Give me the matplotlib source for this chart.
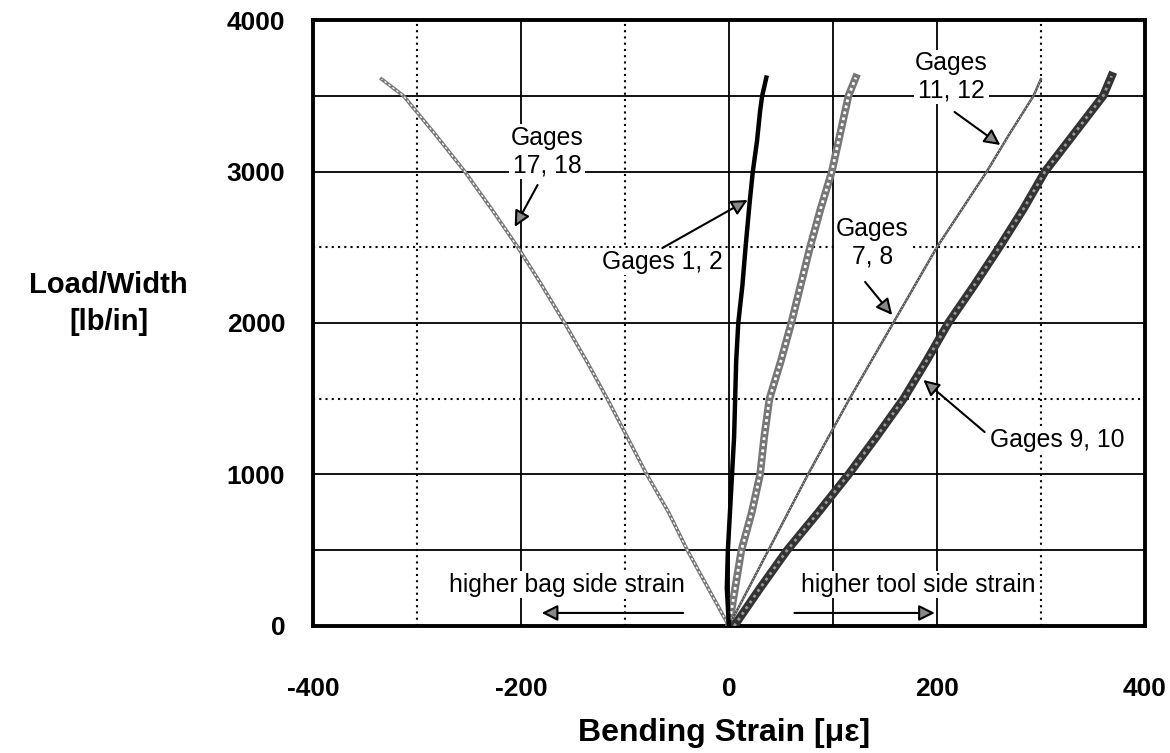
import matplotlib.pyplot as plt

plt.rcParams['font.family'] = ['Liberation Sans', 'DejaVu Sans']
plt.rcParams['axes.unicode_minus'] = False

# load/width levels (lb/in) and bending strain (microstrain)
load_1718 = [0, 250, 500, 750, 1000, 1250, 1500, 1750, 2000, 2250, 2500, 2750, 3000, 3250, 3500, 3610]
strain_1718 = [0, -20, -40, -58, -79, -98, -117, -137, -158, -180, -203, -228, -254, -283, -313, -334]

load_12 = [0, 250, 500, 750, 1000, 1250, 1500, 1750, 2000, 2250, 2500, 2800, 3000, 3200, 3400, 3500, 3620]
strain_12 = [0, -2, -1, 1, 3, 5, 6, 7, 9, 13, 16, 20, 23, 27, 30, 32, 36]

load_x = [0, 250, 500, 750, 1000, 1250, 1500, 1750, 2000, 2250, 2500, 2750, 3000, 3250, 3500, 3620]
strain_x = [0, 6, 12, 22, 30, 34, 39, 50, 60, 69, 78, 88, 99, 107, 115, 122]

load_78 = [0, 250, 500, 750, 1000, 1250, 1500, 1750, 2000, 2250, 2500, 2750, 3000, 3250, 3500, 3610]
strain_78 = [0, 19, 38, 57, 76, 96, 116, 137, 158, 179, 200, 224, 248, 270, 293, 300]

load_910 = [0, 250, 500, 750, 1000, 1250, 1500, 1750, 2000, 2250, 2500, 2750, 3000, 3250, 3500, 3630]
strain_910 = [5, 30, 56, 86, 115, 142, 168, 190, 211, 236, 260, 283, 304, 332, 360, 368]

grid_solid_x = [-200, 0, 100, 200]
grid_dot_x = [-300, -100, 300]
grid_solid_y = [500, 1000, 2000, 3000, 3500]
grid_dot_y = [1500, 2500]

xticks = [-400, -200, 0, 200, 400]
yticks = [0, 1000, 2000, 3000, 4000]

fig = plt.figure(figsize=(11.7, 7.53), dpi=100)
ax = fig.add_axes([0.2675, 0.1687, 0.711, 0.8047])

for x in grid_solid_x:
    ax.axvline(x, color='black', lw=1.3, zorder=1)
for x in grid_dot_x:
    ax.axvline(x, color='black', lw=1.5, ls=(0, (1, 2)), zorder=1)
for y in grid_solid_y:
    ax.axhline(y, color='black', lw=1.3, zorder=1)
for y in grid_dot_y:
    ax.axhline(y, color='black', lw=1.5, ls=(0, (1, 2)), zorder=1)

# gages 17, 18 - thin double line
ax.plot(strain_1718, load_1718, color='#777777', lw=2.6, zorder=3)
ax.plot(strain_1718, load_1718, color='white', lw=0.9, ls=(0, (2, 2)), zorder=3)

# gages 1, 2 - thick black
ax.plot(strain_12, load_12, color='black', lw=3.2, zorder=4)

# unlabeled crosshatched gray
ax.plot(strain_x, load_x, color='#777777', lw=5.5, zorder=3)
ax.plot(strain_x, load_x, color='white', lw=2, ls=(0, (1, 1.2)), zorder=3)

# gages 7, 8 / 11, 12 - thin line
ax.plot(strain_78, load_78, color='#555555', lw=1.8, zorder=3)
ax.plot(strain_78, load_78, color='white', lw=0.6, ls=(0, (1, 3)), zorder=3)

# gages 9, 10 - thick dark
ax.plot(strain_910, load_910, color='#333333', lw=6, zorder=3)
ax.plot(strain_910, load_910, color='#999999', lw=2, ls=(0, (1, 1.5)), zorder=3)

ax.set_xlim(-400, 400)
ax.set_ylim(0, 4000)
ax.set_xticks(xticks)
ax.set_yticks(yticks)
ax.tick_params(length=0, labelsize=19)
ax.tick_params(axis='x', pad=37)
ax.tick_params(axis='y', pad=20)
for lab in ax.get_xticklabels() + ax.get_yticklabels():
    lab.set_fontweight('bold')
for s in ax.spines.values():
    s.set_linewidth(2.8)

fig.text(0.619, 0.026, 'Bending Strain [\u03bc\u03b5]', ha='center', va='center',
         fontsize=23, fontweight='bold')
fig.text(0.093, 0.597, 'Load/Width\n[lb/in]', ha='center', va='center',
         fontsize=21, fontweight='bold', linespacing=1.4)

box = dict(facecolor='white', edgecolor='none', pad=1)
tfs = 17.8
ax.text(-175, 3130, 'Gages\n17, 18', ha='center', va='center', fontsize=tfs, bbox=box, zorder=5)
ax.text(-64, 2403, 'Gages 1, 2', ha='center', va='center', fontsize=tfs, bbox=box, zorder=5)
ax.text(214, 3624, 'Gages\n11, 12', ha='center', va='center', fontsize=tfs, bbox=box, zorder=5)
ax.text(138, 2528, 'Gages\n7, 8', ha='center', va='center', fontsize=tfs, bbox=box, zorder=5)
ax.text(316, 1228, 'Gages 9, 10', ha='center', va='center', fontsize=tfs, bbox=box, zorder=5)
ax.text(-156, 271, 'higher bag side strain', ha='center', va='center', fontsize=tfs, bbox=box, zorder=5)
ax.text(182, 271, 'higher tool side strain', ha='center', va='center', fontsize=tfs, bbox=box, zorder=5)

arrow = dict(arrowstyle='-|>', color='black', fc='#888888', lw=1.5, mutation_scale=24,
             shrinkA=0, shrinkB=0)
arrows = [((-184, 2911), (-206, 2634)),
          ((-64, 2495), (18, 2812)),
          ((217, 3393), (261, 3175)),
          ((131, 2271), (157, 2053)),
          ((246, 1280), (187, 1624)),
          ((-44, 86), (-180, 86)),
          ((63, 86), (198, 86))]
for tail, tip in arrows:
    ax.annotate('', xy=tip, xytext=tail, arrowprops=arrow, zorder=6)

plt.savefig('out.png', dpi=100)
plt.close()
